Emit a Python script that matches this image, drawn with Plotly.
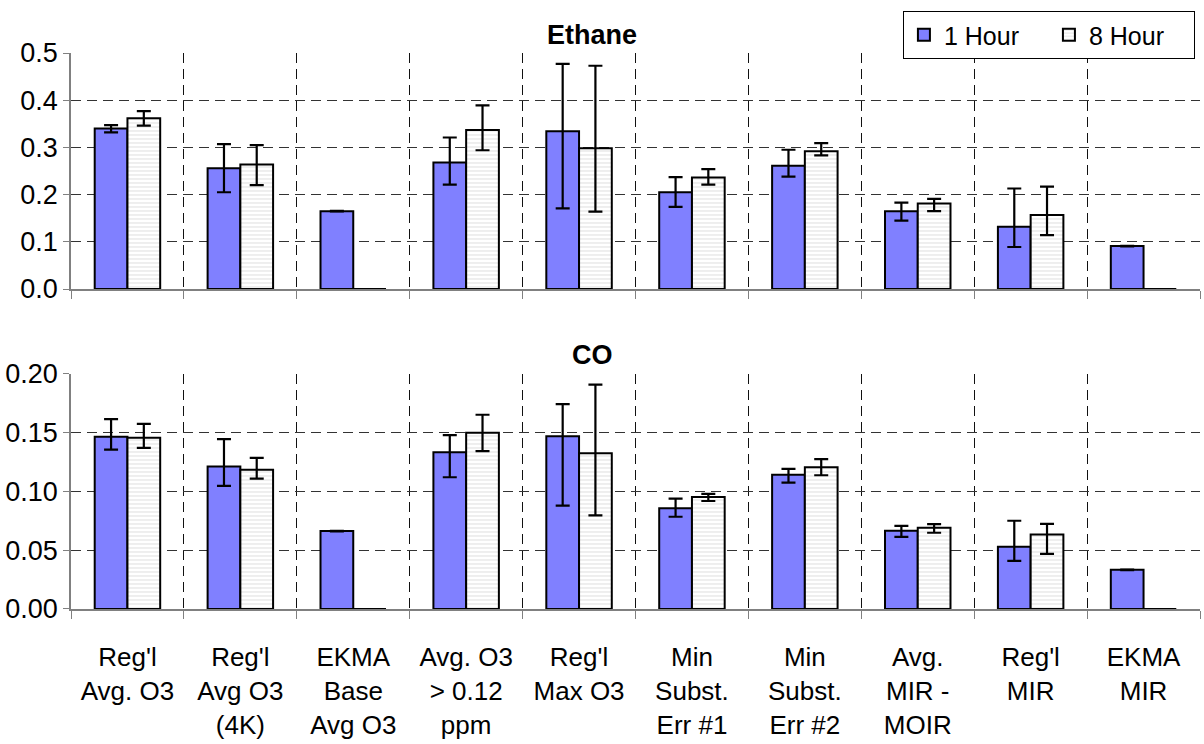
import plotly.graph_objects as go

categories = ["Reg'l<br>Avg. O3", "Reg'l<br>Avg O3<br>(4K)", "EKMA<br>Base<br>Avg O3",
              "Avg. O3<br>> 0.12<br>ppm", "Reg'l<br>Max O3", "Min<br>Subst.<br>Err #1",
              "Min<br>Subst.<br>Err #2", "Avg.<br>MIR -<br>MOIR", "Reg'l<br>MIR", "EKMA<br>MIR"]

ethane_1h = [0.340, 0.256, 0.165, 0.268, 0.334, 0.205, 0.261, 0.165, 0.132, 0.091]
ethane_1h_plus = [0.007, 0.051, 0.0005, 0.053, 0.143, 0.032, 0.034, 0.018, 0.081, 0.0005]
ethane_1h_minus = [0.008, 0.051, 0.0005, 0.047, 0.163, 0.031, 0.023, 0.020, 0.043, 0.0005]
ethane_8h = [0.362, 0.264, 0.0, 0.337, 0.298, 0.236, 0.292, 0.181, 0.157, 0.0]
ethane_8h_plus = [0.015, 0.041, 0.0, 0.052, 0.175, 0.018, 0.017, 0.010, 0.060, 0.0]
ethane_8h_minus = [0.016, 0.044, 0.0, 0.043, 0.134, 0.015, 0.009, 0.016, 0.043, 0.0]

co_1h = [0.1465, 0.1212, 0.0663, 0.1334, 0.1471, 0.0857, 0.1143, 0.0666, 0.0529, 0.0333]
co_1h_plus = [0.0151, 0.0233, 0.0002, 0.0146, 0.0273, 0.0082, 0.0049, 0.0042, 0.0222, 0.0002]
co_1h_minus = [0.0108, 0.0165, 0.0002, 0.0213, 0.0592, 0.0072, 0.0068, 0.0052, 0.0119, 0.0002]
co_8h = [0.1457, 0.1186, 0.0, 0.1499, 0.1326, 0.0953, 0.1206, 0.0691, 0.0635, 0.0]
co_8h_plus = [0.0119, 0.0100, 0.0, 0.0154, 0.0583, 0.0026, 0.0069, 0.0032, 0.0090, 0.0]
co_8h_minus = [0.0086, 0.0077, 0.0, 0.0156, 0.0529, 0.0034, 0.0068, 0.0042, 0.0166, 0.0]

series_names = ["1 Hour", "8 Hour"]
panel_titles = ["Ethane", "CO"]

FONT = "Liberation Sans, Arial, sans-serif"
BLUE = "#8080FF"

def err(plus, minus):
    return dict(type="data", symmetric=False, array=plus, arrayminus=minus,
                color="black", thickness=2.2, width=7)

fig = go.Figure()
for (v1, p1, m1, v8, p8, m8, xa, ya, show) in [
    (ethane_1h, ethane_1h_plus, ethane_1h_minus, ethane_8h, ethane_8h_plus, ethane_8h_minus, "x", "y", True),
    (co_1h, co_1h_plus, co_1h_minus, co_8h, co_8h_plus, co_8h_minus, "x2", "y2", False),
]:
    fig.add_trace(go.Bar(x=categories, y=v1, name=series_names[0], xaxis=xa, yaxis=ya,
                         marker=dict(color=BLUE, line=dict(color="black", width=2)),
                         error_y=err(p1, m1), showlegend=show, legendgroup="a"))
    fig.add_trace(go.Bar(x=categories, y=v8, name=series_names[1], xaxis=xa, yaxis=ya,
                         marker=dict(color="white", line=dict(color="black", width=2),
                                     pattern=dict(shape="-", fgcolor="#c8c8c8", bgcolor="white",
                                                  size=4, solidity=0.3)),
                         error_y=err(p8, m8), showlegend=show, legendgroup="b"))

xcommon = dict(type="category", tickson="boundaries", showgrid=True, griddash="10px,6px",
               gridcolor="#111111", gridwidth=1.2, ticks="outside", ticklen=8,
               tickcolor="#808080", showline=True, linecolor="#808080", linewidth=1.5,
               range=[-0.5, 9.5], categoryorder="array", categoryarray=categories,
               automargin=False)
ycommon = dict(showline=True, linecolor="#808080", linewidth=1.5, ticks="outside", ticklen=6,
               tickcolor="#808080", showgrid=True, griddash="10px,6px", gridcolor="#333333",
               gridwidth=1.2, zeroline=False, automargin=False,
               tickfont=dict(size=27, family=FONT, color="black"))

fig.update_layout(
    width=1204, height=744,
    margin=dict(l=71, r=4, t=53, b=135),
    paper_bgcolor="white", plot_bgcolor="white",
    barmode="group", bargap=0.42, bargroupgap=0,
    font=dict(family=FONT, size=27, color="black"),
    xaxis=dict(**xcommon, anchor="y", showticklabels=False),
    xaxis2=dict(**xcommon, anchor="y2", showticklabels=True,
                tickfont=dict(size=26, family=FONT, color="black"), ticklabelstandoff=24),
    yaxis=dict(**ycommon, domain=[0.5755, 1.0], range=[0, 0.5], dtick=0.1, tickformat=".1f"),
    yaxis2=dict(**ycommon, domain=[0.0, 0.4227], range=[0, 0.2], dtick=0.05, tickformat=".2f"),
    legend=dict(orientation="h", x=0.9955, xanchor="right", y=1.0755, yanchor="top",
                bordercolor="black", borderwidth=1, bgcolor="white",
                entrywidth=100, entrywidthmode="pixels",
                font=dict(size=25, family=FONT), traceorder="normal"),
    annotations=[
        dict(text="<b>" + panel_titles[0] + "</b>", xref="paper", yref="paper", x=0.4615, y=1.032,
             xanchor="center", yanchor="middle", showarrow=False, font=dict(size=27, family=FONT)),
        dict(text="<b>" + panel_titles[1] + "</b>", xref="paper", yref="paper", x=0.4615, y=0.457,
             xanchor="center", yanchor="middle", showarrow=False, font=dict(size=27, family=FONT)),
    ],
)

fig.write_html("out.html")
